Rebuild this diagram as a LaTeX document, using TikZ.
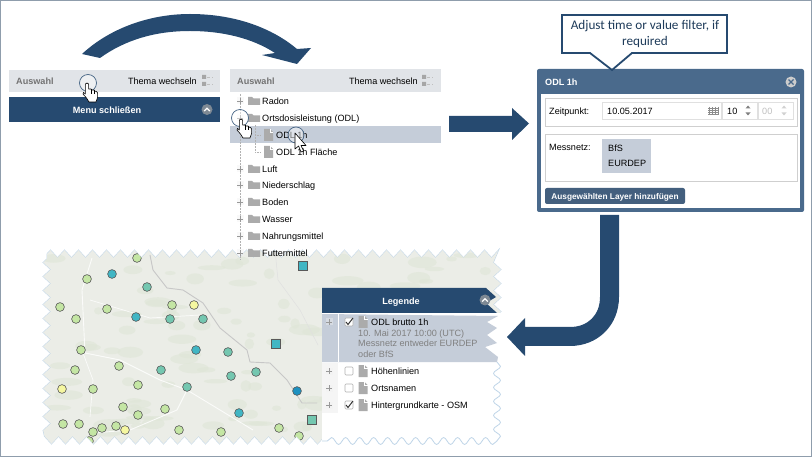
\documentclass[tikz,border=0pt]{standalone}
\usepackage{fontspec}
\setmainfont{Liberation Sans}
\newfontfamily\calloutfont{Carlito}
\usepackage{xcolor}
\usetikzlibrary{positioning, calc, arrows.meta, decorations.pathmorphing}

\definecolor{navy}{HTML}{264A70}
\definecolor{slate}{HTML}{4A6A8C}
\definecolor{headgray}{HTML}{E1E4E8}
\definecolor{pickblue}{HTML}{C5CDD9}
\definecolor{icongray}{HTML}{ABABAB}
\definecolor{boxgray}{HTML}{CFCFCF}
\definecolor{mapbase}{HTML}{EBEDE7}
\definecolor{mapgreen}{HTML}{DFE6D7}
\definecolor{tornline}{HTML}{BFD5E8}
\definecolor{ptgreen}{HTML}{C4E6A4}
\definecolor{ptyellow}{HTML}{F5F7A0}
\definecolor{ptteal}{HTML}{74C7B0}
\definecolor{ptblue}{HTML}{41B6C4}
\definecolor{ptdeep}{HTML}{1D91C0}

\tikzset{
  uitext/.style={inner sep=0pt, anchor=west, text height=8.5pt, text depth=1.8pt, font=\fontsize{9.1}{11}\selectfont},
  boldtext/.style={uitext, font=\fontsize{9.1}{11}\selectfont\bfseries},
  clickring/.style={draw=navy!85, line width=0.7pt, fill=white, fill opacity=0.45},
  mappoint/.style={draw=black!65, line width=0.6pt},
  torn/.style={decorate, decoration={zigzag, segment length=14pt, amplitude=3.8pt}},
  wavy/.style={tornline, line width=0.8pt, decorate, decoration={snake, segment length=14pt, amplitude=3.5pt}},
  folder/.pic={\fill[icongray] (-6,4) -- (-6,-4) -- (-2,-4) -- (-0.5,-2.5) -- (6,-2.5) -- (6,4) -- cycle;},
  docicon/.pic={\fill[icongray] (-4.5,-6) -- (1.5,-6) -- (4.5,-3) -- (4.5,6) -- (-4.5,6) -- cycle;
    \draw[white, line width=0.4pt] (1.5,-6) -- (1.5,-3) -- (4.5,-3);},
  plusbox/.pic={\fill[black!6, fill opacity=0.4] (-3.5,-3.5) rectangle (3.5,3.5);
    \draw[black!40, line width=0.6pt] (-3,0) -- (3,0) (0,-3) -- (0,3);},
  tickbox/.pic={\draw[black!30, fill=white, rounded corners=1pt, line width=0.6pt] (-4,-4) rectangle (4,4);},
  tickmark/.pic={\draw[black!80, line width=1pt] (-3,0) -- (-1,2.5) -- (4,-4);},
  themeicon/.pic={\fill[black!35] (0,-6) rectangle (4,-2) (0,1) rectangle (4,5);
    \draw[black!25, line width=0.5pt, densely dashed] (5,-4) -- (11,-4) (5,3) -- (11,3);},
  chevron/.pic={\fill[black!45!slate!60!white] (0,0) circle (5.5);
    \draw[white, line width=1.3pt] (-2.8,1.5) -- (0,-1.3) -- (2.8,1.5);},
  hand/.pic={\draw[black, fill=white, line width=0.6pt, line join=round]
      (-1.6,1) -- (0,0) -- (1.6,1) -- (1.6,6) -- (4,6) -- (4.6,7) -- (7,7) -- (7.6,8) -- (9.6,8.6)
      -- (10.6,10) -- (10.6,14.5) -- (9,19) -- (2,19) -- (-0.5,15) -- (-4,11) -- (-3.4,9.4) -- (-1.6,11) -- cycle;
    \draw[black, line width=0.5pt] (4,6) -- (4,11) (7,7) -- (7,11);},
  pointer/.pic={\draw[black, fill=white, line width=0.6pt, line join=round]
      (0,0) -- (0,16) -- (3.6,13) -- (6,19) -- (8.6,18) -- (6,12.5) -- (11,12.5) -- cycle;},
}

\begin{document}
\begin{tikzpicture}[x=1pt, y=-1pt, >=stealth]
    \useasboundingbox (0,0) rectangle (812,457);

    % --- Outer frame ---
    \draw[black!20!navy!50!white, line width=1.4pt] (0.7,0.7) rectangle (811.3,456.3);

    % --- Torn map ---
    \draw[tornline, line width=1pt, torn] (47,254) -- (497,254) -- (497,440) -- (47,440) -- cycle;
    \begin{scope}
      \path[clip, torn] (47,254) -- (497,254) -- (497,440) -- (47,440) -- cycle;
      \fill[mapbase] (40,240) rectangle (505,450);
      \pgfmathsetseed{17}
      \foreach \i in {1,...,120}{
        \fill[mapgreen, opacity=0.6] ({50+rnd*440},{255+rnd*180}) ellipse ({4+rnd*12} and {2+rnd*4});
      }
      % main roads
      \draw[white, line width=0.9pt, opacity=0.8] (92,258) -- (82,290) -- (85,353) -- (120,360) -- (160,380) -- (187,390) -- (253,430);
      \draw[white, line width=0.7pt, opacity=0.8] (83,353) -- (93,380) -- (90,417);
      \draw[white, line width=0.9pt, opacity=0.8] (187,390) -- (177,410) -- (130,430) -- (93,433);
      \draw[white, line width=0.7pt, opacity=0.8] (90,300) -- (150,318) -- (200,315);
      % state border
      \draw[black!22, line width=0.9pt] (150,255) -- (153,270) -- (167,288) -- (183,290) -- (203,303) -- (220,328)
        -- (247,350) -- (250,362) -- (270,363) -- (287,380) -- (302,403) -- (317,403);
      \draw[black!12, line width=0.5pt] (275,250) -- (278,280) -- (300,310) -- (318,345);
      % stations
      \foreach \px/\py/\col in {137/258/ptgreen, 112/274/ptblue, 87/279/ptgreen, 147/287/ptteal, 60/307/ptgreen,
          107/309/ptgreen, 172/305/ptgreen, 194/305/ptyellow, 76/319/ptgreen, 136/317/ptblue, 170/319/ptteal,
          203/319/ptteal, 81/350/ptgreen, 196/350/ptblue, 228/352/ptteal, 119/366/ptgreen, 75/370/ptgreen,
          161/370/ptteal, 256/372/ptteal, 231/376/ptteal, 62/389/ptyellow, 93/389/ptgreen, 138/385/ptgreen,
          187/387/ptteal, 297/391/ptdeep, 123/407/ptgreen, 165/409/ptgreen, 138/415/ptgreen, 239/413/ptblue,
          63/424/ptgreen, 79/424/ptgreen, 102/428/ptgreen, 93/432/ptgreen, 116/426/ptgreen, 125/430/ptyellow,
          179/430/ptgreen, 221/432/ptgreen, 279/428/ptgreen, 299/436/ptgreen, 89/441/ptgreen}{
        \filldraw[mappoint, fill=\col] (\px,\py) circle (4.4);
      }
      \foreach \px/\py/\col in {303/266/ptblue, 276/344/ptblue, 312/420/ptteal}{
        \filldraw[mappoint, fill=\col] (\px-4.3,\py-4.3) rectangle (\px+4.3,\py+4.3);
      }
    \end{scope}

    % --- Menu bar on the left ---
    \fill[headgray] (9,70) rectangle (220,92);
    \node[boldtext, text=black!55] (pickleft) at (16,81) {Auswahl};
    \node[uitext, anchor=east] (themeleft) at (197,81) {Thema wechseln};
    \pic at (202,81) {themeicon};
    \fill[navy] (9,97) rectangle (220,122);
    \node[boldtext, anchor=center, text=white] (menuclose) at (107,110) {Menu schließen};
    \pic at (207,109.5) {chevron};

    % --- Layer tree ---
    \fill[headgray] (230,69) rectangle (441,92);
    \node[boldtext, text=black!55] (pickright) at (237,81) {Auswahl};
    \node[uitext, anchor=east] (themeright) at (418,81) {Thema wechseln};
    \pic at (422,81) {themeicon};
    \fill[pickblue] (230,126) rectangle (441,143);
    \draw[black!30, line width=0.5pt, densely dotted] (240,94) -- (240,260);
    \draw[black!30, line width=0.5pt, densely dotted] (255,125) -- (255,152) -- (261,152) (255,135) -- (261,135);
    \foreach \rowy/\rowname/\rowtext in {101/radon/Radon, 118/odl/Ortsdosisleistung (ODL), 169/luft/Luft,
        185/regen/Niederschlag, 202/boden/Boden, 219/wasser/Wasser, 236/nahrung/Nahrungsmittel, 253/futter/Futtermittel}{
      \pic at (240,\rowy) {plusbox};
      \pic at (254,\rowy) {folder};
      \node[uitext] (\rowname) at (262,\rowy) {\rowtext};
    }
    \pic at (268.5,135) {docicon};
    \node[uitext] (odlone) at (276,135) {ODL 1h};
    \pic at (268.5,152) {docicon};
    \node[uitext] (odlarea) at (276,152) {ODL 1h Fläche};

    % --- Date and network dialog ---
    \fill[slate, rounded corners=2pt] (537,69) rectangle (804,212);
    \node[boldtext, text=white] (dialogtitle) at (545,82) {ODL 1h};
    \fill[black!20] (791,82) circle (5.5);
    \draw[slate, line width=1.2pt] (788.5,79.5) -- (793.5,84.5) (793.5,79.5) -- (788.5,84.5);
    \fill[white] (541,94) rectangle (800,208);
    \draw[boxgray, line width=0.7pt] (545,98) rectangle (797,126);
    \node[uitext] (timelabel) at (549,111) {Zeitpunkt:};
    \draw[black!12, fill=white, line width=0.7pt] (602,102) rectangle (721,119);
    \node[uitext] (datefield) at (607,111) {10.05.2017};
    \foreach \i in {0,1,2,3}{
      \draw[black!45, line width=0.5pt] (709+\i*3,107) -- (709+\i*3,115);
      \draw[black!45, line width=0.5pt] (708,108+\i*2.2) -- (719,108+\i*2.2);
    }
    \draw[black!12, line width=0.7pt] (722,102) rectangle (757,119) (758,102) rectangle (793,119);
    \node[uitext] (hourfield) at (727,111) {10};
    \node[uitext, text=black!25] (minutefield) at (762,111) {00};
    \foreach \sx/\tone in {748/50, 784/18}{
      \fill[black!\tone] (\sx-2.5,108.5) -- (\sx,105.5) -- (\sx+2.5,108.5) -- cycle;
      \fill[black!\tone] (\sx-2.5,112.5) -- (\sx,115.5) -- (\sx+2.5,112.5) -- cycle;
    }
    \draw[boxgray, line width=0.7pt] (545,134) rectangle (797,181);
    \node[uitext] (netlabel) at (549,147) {Messnetz:};
    \fill[pickblue] (602,139) rectangle (651,173);
    \node[uitext] (netbfs) at (608,148) {BfS};
    \node[uitext] (neteurdep) at (608,163) {EURDEP};
    \fill[slate!90!black, rounded corners=2pt] (545,188) rectangle (685,204);
    \node[boldtext, anchor=center, text=white, font=\fontsize{8.3}{10}\selectfont\bfseries] (addlayer) at (615,196) {Ausgewählten Layer hinzufügen};

    % --- Callout above the dialog ---
    \draw[navy, fill=white, line width=1.8pt, line join=miter] (562,15) -- (727,15) -- (727,53) -- (632,53)
      -- (612,70) -- (590,53) -- (562,53) -- cycle;
    \node[inner sep=0pt, align=center, text=navy!80!black, font=\calloutfont\fontsize{13.2}{16}\selectfont] (hint) at (645,34)
      {Adjust time or value filter, if\\required};

    % --- Legend panel ---
    \fill[white] (322,313) rectangle (504,450);
    \draw[wavy] (497,362) -- (497,441);
    \draw[wavy] (497,441) -- (322,441);
    \fill[navy] (322,288) -- (486,288) -- (496,297) -- (486,303) -- (497,313) -- (322,313) -- cycle;
    \node[boldtext, anchor=center, text=white] (legendtitle) at (401,301) {Legende};
    \pic at (485,300) {chevron};
    \fill[pickblue] (322,314) -- (498,316) -- (487,322) -- (497,328) -- (487,335) -- (497,343) -- (485,347) -- (498,357)
      -- (497,362) -- (322,362) -- cycle;
    \draw[white, line width=0.8pt] (338,314) -- (338,362);
    \fill[black!4] (322,363) rectangle (338,413);
    \foreach \rowy/\rowname/\rowtext in {322/legodl/ODL brutto 1h, 371/leghigh/Höhenlinien, 388/legplace/Ortsnamen, 405/legbase/Hintergrundkarte - OSM}{
      \pic at (329,\rowy) {plusbox};
      \pic at (349,\rowy) {tickbox};
      \pic at (363,\rowy) {docicon};
      \node[uitext] (\rowname) at (371,\rowy) {\rowtext};
    }
    \pic at (349,322) {tickmark};
    \pic at (349,405) {tickmark};
    \node[uitext, text=black!50] (legdate) at (358,333) {10. Mai 2017 10:00 (UTC)};
    \node[uitext, text=black!50] (legnet) at (358,343.5) {Messnetz entweder EURDEP};
    \node[uitext, text=black!50] (legor) at (358,354) {oder BfS};

    % --- Big arrows ---
    \fill[navy] (82,54) .. controls (110,28) and (150,14) .. (190,14) .. controls (235,14) and (272,28) .. (297,49)
      -- (311,48) -- (297,64) -- (262,55) -- (275,53) .. controls (252,38) and (222,31) .. (190,31)
      .. controls (155,31) and (125,40) .. (100,58) -- cycle;
    \fill[navy] (449,116) -- (512,116) -- (512,108) -- (529,123.5) -- (512,140) -- (512,132) -- (449,132) -- cycle;
    \fill[navy] (600,215) -- (619,215) -- (619,297) .. controls (619,325) and (598,346) .. (570,346)
      -- (525,346) -- (525,356) -- (507,337) -- (525,318) -- (525,327) -- (570,327)
      .. controls (588,327) and (600,315) .. (600,297) -- cycle;

    % --- Click marks and cursors ---
    \filldraw[clickring] (88,83) circle (8.5);
    \pic at (87,83) {hand};
    \filldraw[clickring] (240,118) circle (8.5);
    \pic at (241,119) {hand};
    \filldraw[clickring] (296,135) circle (8);
    \pic at (295,133) {pointer};

\end{tikzpicture}
\end{document}
